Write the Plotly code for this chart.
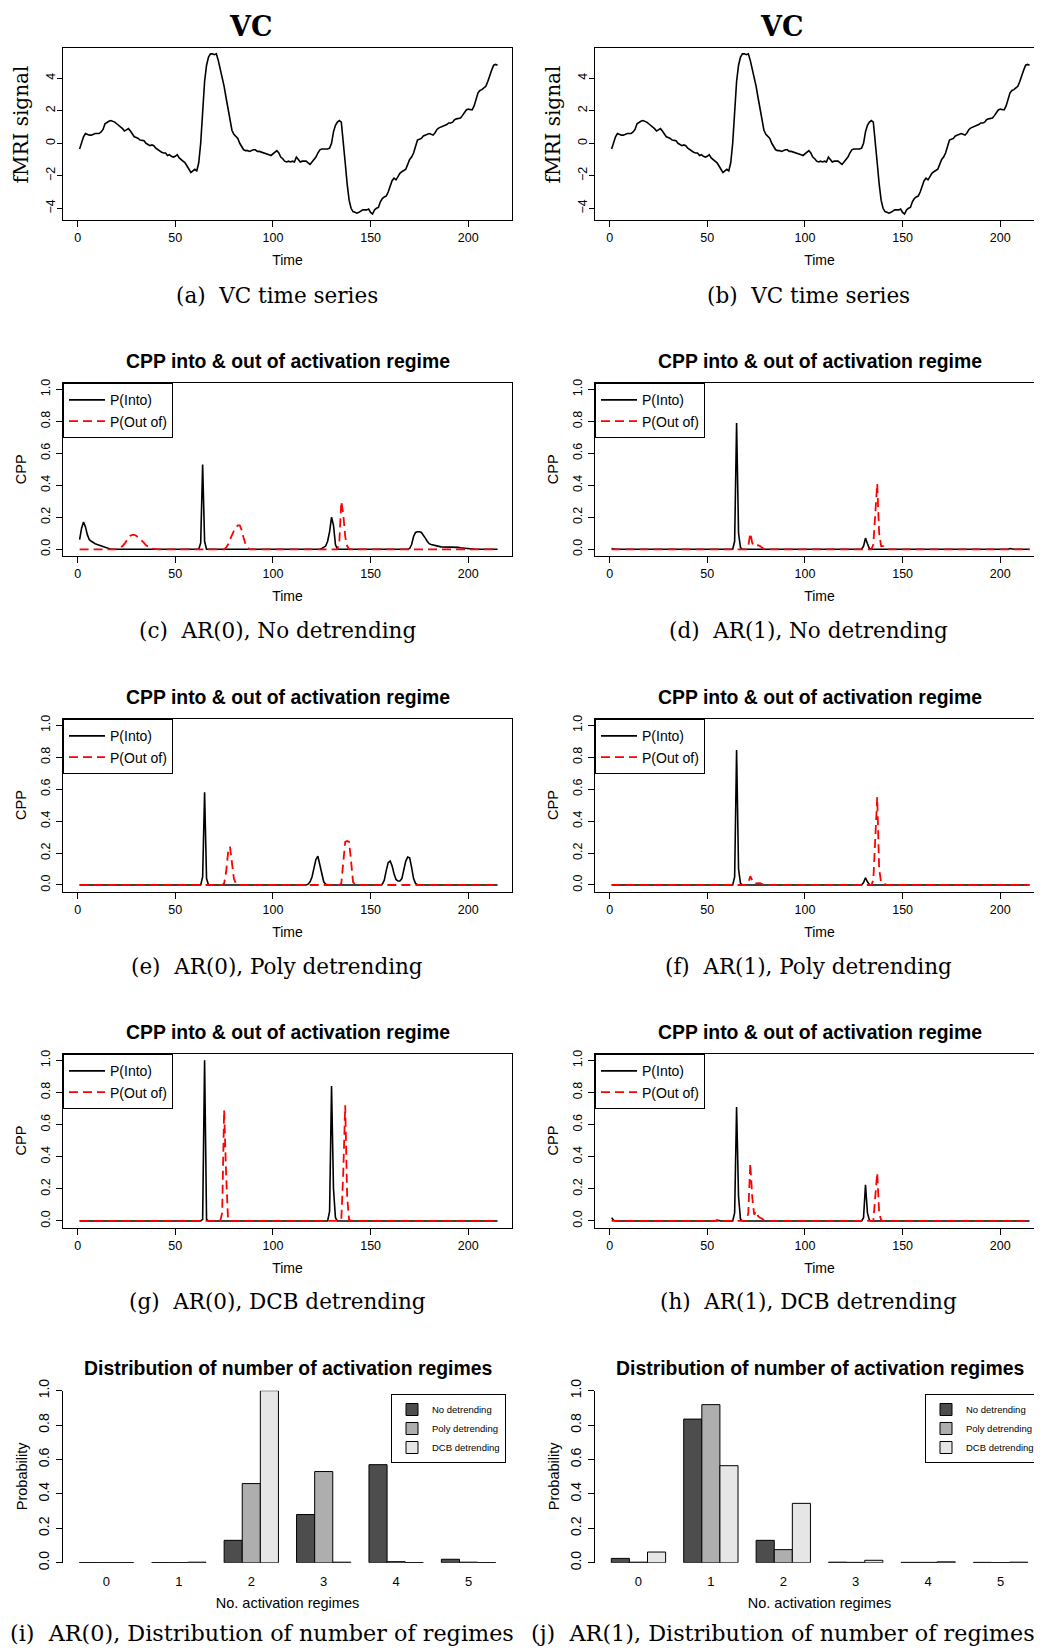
import plotly.graph_objects as go

W, H = 1042, 1651
OFF = 8  # page body margin in the browser

# ---------------- data ----------------
time = list(range(1, 216))

vc_signal = [
    -0.35, 0.1, 0.4, 0.6, 0.55, 0.5, 0.5, 0.55, 0.6, 0.6,
    0.6, 0.7, 0.85, 1.2, 1.3, 1.35, 1.4, 1.35, 1.3, 1.2,
    1.1, 1.05, 0.9, 0.75, 0.85, 0.9, 0.75, 0.55, 0.4, 0.35,
    0.3, 0.2, 0.15, 0.15, 0.0, -0.1, -0.15, -0.1, -0.15, -0.3,
    -0.4, -0.45, -0.55, -0.6, -0.6, -0.75, -0.7, -0.8, -0.85, -0.8,
    -0.7, -0.9, -1.0, -1.1, -1.2, -1.4, -1.6, -1.8, -1.7, -1.6,
    -1.7, -1.2, 0.0, 2.0, 3.8, 4.8, 5.3, 5.5, 5.5, 5.45,
    5.5, 5.1, 4.6, 4.0, 3.5, 2.8, 2.1, 1.3, 0.8, 0.55,
    0.45, 0.3, 0.0, -0.2, -0.4, -0.45, -0.45, -0.5, -0.45, -0.4,
    -0.4, -0.5, -0.5, -0.55, -0.6, -0.65, -0.7, -0.7, -0.75, -0.65,
    -0.5, -0.45, -0.6, -0.85, -0.95, -1.1, -1.15, -1.1, -1.15, -1.1,
    -1.15, -0.85, -1.0, -1.15, -1.1, -1.1, -1.1, -1.2, -1.3, -1.15,
    -1.0, -0.85, -0.6, -0.4, -0.35, -0.35, -0.35, -0.35, -0.3, 0.0,
    0.7, 1.1, 1.3, 1.4, 1.3, 0.2, -1.2, -2.5, -3.5, -4.0,
    -4.2, -4.25, -4.3, -4.25, -4.15, -4.1, -4.1, -4.1, -4.05, -4.25,
    -4.35, -4.1, -4.0, -3.95, -3.6, -3.4, -3.3, -3.25, -3.0, -2.6,
    -2.3, -2.15, -2.25, -2.05, -1.85, -1.75, -1.65, -1.6, -1.3, -1.0,
    -0.85, -0.6, -0.2, 0.2, 0.25, 0.3, 0.45, 0.5, 0.55, 0.6,
    0.55, 0.5, 0.65, 0.85, 0.95, 1.0, 1.05, 1.1, 1.15, 1.25,
    1.25, 1.3, 1.45, 1.5, 1.55, 1.55, 1.7, 1.9, 2.05, 2.1,
    2.05, 2.05, 2.3, 2.7, 3.1, 3.25, 3.3, 3.4, 3.5, 3.8,
    4.2, 4.5, 4.8, 4.85, 4.8,
]

# Change-point probabilities (nonzero time points only; all others read as 0)
into_c = {1: 0.06, 2: 0.13, 3: 0.17, 4: 0.14, 5: 0.09, 6: 0.06, 7: 0.05, 8: 0.04,
          9: 0.035, 10: 0.03, 11: 0.025, 12: 0.02, 13: 0.02, 14: 0.01, 15: 0.005,
          63: 0.04, 64: 0.53, 65: 0.05,
          125: 0.005, 126: 0.01, 127: 0.02, 128: 0.05, 129: 0.11, 130: 0.2, 131: 0.15, 132: 0.03,
          170: 0.005, 171: 0.03, 172: 0.08, 173: 0.105, 174: 0.11, 175: 0.11, 176: 0.105,
          177: 0.09, 178: 0.07, 179: 0.05, 180: 0.035, 181: 0.03, 182: 0.028, 183: 0.025,
          184: 0.02, 185: 0.018, 186: 0.015, 187: 0.015, 188: 0.015, 189: 0.015, 190: 0.015,
          191: 0.015, 192: 0.015, 193: 0.015, 194: 0.014, 195: 0.012, 196: 0.01, 197: 0.008,
          198: 0.006, 199: 0.005, 200: 0.004, 201: 0.003, 202: 0.002, 203: 0.001}
out_c = {21: 0.005, 22: 0.01, 23: 0.02, 24: 0.035, 25: 0.05, 26: 0.07, 27: 0.085, 28: 0.09,
         29: 0.09, 30: 0.085, 31: 0.075, 32: 0.065, 33: 0.05, 34: 0.04, 35: 0.025, 36: 0.015,
         37: 0.01, 38: 0.005, 39: 0.002,
         76: 0.01, 77: 0.03, 78: 0.06, 79: 0.09, 80: 0.115, 81: 0.135, 82: 0.15, 83: 0.15,
         84: 0.12, 85: 0.07, 86: 0.03, 87: 0.01,
         134: 0.05, 135: 0.3, 136: 0.22, 137: 0.08, 138: 0.02}

into_d = {1: 0.005, 64: 0.05, 65: 0.79, 66: 0.1, 67: 0.01,
          130: 0.02, 131: 0.07, 132: 0.035, 133: 0.005, 205: 0.005}
out_d = {71: 0.02, 72: 0.1, 73: 0.04, 74: 0.02, 75: 0.02, 76: 0.025, 77: 0.02, 78: 0.01, 79: 0.002,
         135: 0.03, 136: 0.25, 137: 0.41, 138: 0.1, 139: 0.02, 140: 0.02, 141: 0.005}

into_e = {64: 0.05, 65: 0.58, 66: 0.04,
          118: 0.005, 119: 0.02, 120: 0.05, 121: 0.1, 122: 0.16, 123: 0.18, 124: 0.13, 125: 0.06,
          126: 0.02, 127: 0.005,
          156: 0.005, 157: 0.03, 158: 0.09, 159: 0.14, 160: 0.15, 161: 0.12, 162: 0.07, 163: 0.035,
          164: 0.025, 165: 0.025, 166: 0.04, 167: 0.09, 168: 0.15, 169: 0.175, 170: 0.17,
          171: 0.11, 172: 0.04, 173: 0.01, 174: 0.002}
out_e = {75: 0.01, 76: 0.08, 77: 0.2, 78: 0.24, 79: 0.14, 80: 0.04, 81: 0.01, 82: 0.002,
         135: 0.01, 136: 0.15, 137: 0.27, 138: 0.275, 139: 0.27, 140: 0.15, 141: 0.02, 142: 0.003}

into_f = {64: 0.05, 65: 0.845, 66: 0.1, 67: 0.01,
          130: 0.015, 131: 0.045, 132: 0.02, 133: 0.003}
out_f = {71: 0.01, 72: 0.055, 73: 0.03, 74: 0.01, 75: 0.01, 76: 0.012, 77: 0.012, 78: 0.006,
         135: 0.03, 136: 0.3, 137: 0.55, 138: 0.1, 139: 0.015, 140: 0.01, 141: 0.003}

into_g = {64: 0.01, 65: 1.0, 66: 0.01,
          129: 0.06, 130: 0.84, 131: 0.2, 132: 0.02}
out_g = {74: 0.05, 75: 0.69, 76: 0.3, 77: 0.01,
         135: 0.01, 136: 0.3, 137: 0.72, 138: 0.15, 139: 0.005}

into_h = {1: 0.02, 2: 0.005, 55: 0.005, 64: 0.05, 65: 0.71, 66: 0.15, 67: 0.01,
          130: 0.02, 131: 0.225, 132: 0.05, 133: 0.005}
out_h = {71: 0.05, 72: 0.36, 73: 0.15, 74: 0.04, 75: 0.06, 76: 0.03, 77: 0.02, 78: 0.015, 79: 0.003,
         136: 0.15, 137: 0.3, 138: 0.05, 139: 0.005}

# Distribution of number of activation regimes
n_regimes = ["0", "1", "2", "3", "4", "5"]
series_names = ["No detrending", "Poly detrending", "DCB detrending"]
ar0_no = [0.001, 0.001, 0.13, 0.28, 0.57, 0.02]
ar0_poly = [0.001, 0.001, 0.46, 0.53, 0.006, 0.003]
ar0_dcb = [0.001, 0.003, 1.0, 0.003, 0.001, 0.001]
ar1_no = [0.025, 0.835, 0.13, 0.003, 0.002, 0.002]
ar1_poly = [0.003, 0.919, 0.076, 0.002, 0.002, 0.001]
ar1_dcb = [0.062, 0.564, 0.345, 0.014, 0.005, 0.003]

captions = ["(a)  VC time series", "(b)  VC time series",
            "(c)  AR(0), No detrending", "(d)  AR(1), No detrending",
            "(e)  AR(0), Poly detrending", "(f)  AR(1), Poly detrending",
            "(g)  AR(0), DCB detrending", "(h)  AR(1), DCB detrending",
            "(i)  AR(0), Distribution of number of regimes",
            "(j)  AR(1), Distribution of number of regimes"]

cpp_title = "CPP into & out of activation regime"
bar_title = "Distribution of number of activation regimes"
bar_colors = ["#4D4D4D", "#AEAEAE", "#E6E6E6"]

# ---------------- layout geometry (page px) ----------------
SANS = "Liberation Sans, Arial, Helvetica, sans-serif"
SERIF = "DejaVu Serif, serif"

col_x = [(63, 512), (595, 1044)]
row_y = [(48, 220), (383.3, 556), (719.3, 891.7), (1054.3, 1227.7), (1390.7, 1562.7)]
line_xrange = [-7.5, 222.4]
bar_xrange = [-0.6, 5.6]
caption_x = [277, 808]
caption_y = [295, 630, 966, 1301, 1633]
ytitle_x = [20.5, 552.5]


def px(a):
    return (a - OFF) / W


def py(b):
    return 1 - (b - OFF) / H


def ann(text, x, y, size, family, angle=0, xanchor="center"):
    return dict(text=text, x=px(x), y=py(y), xref="paper", yref="paper", showarrow=False,
                xanchor=xanchor, yanchor="middle", textangle=angle,
                font=dict(size=size, family=family, color="black"))


fig = go.Figure()
layout = dict(template="none", width=W, height=H, margin=dict(l=0, r=0, t=0, b=0, pad=0),
              paper_bgcolor="white", plot_bgcolor="white", hovermode=False,
              font=dict(family=SANS, color="black"), annotations=[])

cpp_sets = [(into_c, out_c), (into_d, out_d), (into_e, out_e), (into_f, out_f),
            (into_g, out_g), (into_h, out_h)]

idx = 0
for r in range(5):
    for c in range(2):
        idx += 1
        xa = "xaxis" if idx == 1 else f"xaxis{idx}"
        ya = "yaxis" if idx == 1 else f"yaxis{idx}"
        xr = "x" if idx == 1 else f"x{idx}"
        yr = "y" if idx == 1 else f"y{idx}"
        top, bottom = row_y[r]
        x0, x1 = col_x[c]
        xmid = (x0 + x1) / 2
        leg = "legend" if idx == 1 else f"legend{idx}"
        base_axis = dict(showgrid=False, zeroline=False, linecolor="black", linewidth=1,
                         ticks="outside", tickcolor="black", ticklen=6, tickwidth=1,
                         automargin=False,
                         tickfont=dict(size=12.5, family=SANS, color="black"), fixedrange=True)
        xdom = [px(x0), min(px(x1), 1.0)]
        ydom = [py(bottom), py(top)]
        if r < 4:
            layout[xa] = dict(base_axis, domain=xdom, anchor=yr, range=line_xrange,
                              tickvals=[0, 50, 100, 150, 200], showline=True, mirror=True,
                              ticklabelstandoff=0,
                              title=dict(text="Time", font=dict(size=14, family=SANS), standoff=11))
            if r == 0:
                layout[ya] = dict(base_axis, domain=ydom, anchor=xr, range=[-4.72, 5.86],
                                  tickvals=[-4, -2, 0, 2, 4], ticktext=["\u22124", "\u22122", "0", "2", "4"],
                                  tickangle=-90, showline=True, mirror=True, ticklen=5,
                                  ticklabelstandoff=-3)
                fig.add_trace(go.Scatter(x=time, y=vc_signal, mode="lines", xaxis=xr, yaxis=yr,
                                         line=dict(color="black", width=1.6), showlegend=False))
                layout["annotations"].append(ann("<b>VC</b>", 250 if c == 0 else 781, 26.5, 27, SERIF))
                layout["annotations"].append(ann("fMRI signal", ytitle_x[c], 125, 20, SERIF, angle=-90))
            else:
                into, out = cpp_sets[(r - 1) * 2 + c]
                layout[ya] = dict(base_axis, domain=ydom, anchor=xr, range=[-0.042, 1.0375],
                                  tickvals=[0, 0.2, 0.4, 0.6, 0.8, 1.0], tickformat=".1f",
                                  tickangle=-90, showline=True, mirror=True,
                                  ticklabelstandoff=1)
                fig.add_trace(go.Scatter(x=time, y=[into.get(t, 0.0) for t in time], mode="lines",
                                         name="P(Into)", xaxis=xr, yaxis=yr, legend=leg,
                                         line=dict(color="black", width=1.6)))
                fig.add_trace(go.Scatter(x=time, y=[out.get(t, 0.0) for t in time], mode="lines",
                                         name="P(Out of)", xaxis=xr, yaxis=yr, legend=leg,
                                         line=dict(color="#FF0000", width=1.8, dash="9px,5px")))
                layout[leg] = dict(x=px(x0), y=py(top), xanchor="left", yanchor="top",
                                   bgcolor="white", bordercolor="black", borderwidth=1,
                                   font=dict(size=14, family=SANS, color="black"), itemwidth=36,
                                   tracegroupgap=0)
                layout["annotations"].append(ann("<b>" + cpp_title.replace("&", "&amp;") + "</b>",
                                                 xmid, top - 22.6, 19.4, SANS))
                layout["annotations"].append(ann("CPP", ytitle_x[c], (top + bottom) / 2, 14.5, SANS, angle=-90))
        else:
            layout[xa] = dict(base_axis, domain=xdom, anchor=yr, range=bar_xrange,
                              type="category", showline=False, ticks="", ticklabelstandoff=9,
                              tickfont=dict(size=13, family=SANS, color="black"),
                              title=dict(text="No. activation regimes", font=dict(size=14.5, family=SANS),
                                         standoff=10))
            layout[ya] = dict(base_axis, domain=ydom, anchor=xr, range=[0, 1],
                              tickvals=[0, 0.2, 0.4, 0.6, 0.8, 1.0], tickformat=".1f",
                              tickangle=-90, showline=True, mirror=False, ticklabelstandoff=1,
                              tickfont=dict(size=14, family=SANS, color="black"))
            vals = [ar0_no, ar0_poly, ar0_dcb] if c == 0 else [ar1_no, ar1_poly, ar1_dcb]
            for name, v, col in zip(series_names, vals, bar_colors):
                fig.add_trace(go.Bar(x=n_regimes, y=v, name=name, xaxis=xr, yaxis=yr, legend=leg,
                                     marker=dict(color=col, line=dict(color="black", width=1))))
            layout[leg] = dict(x=px(506 if c == 0 else 1040), y=py(1394),
                               xanchor="right", yanchor="top", bgcolor="white",
                               bordercolor="black", borderwidth=1,
                               font=dict(size=9.5, family=SANS, color="black"), itemwidth=30,
                               tracegroupgap=0)
            layout["annotations"].append(ann("<b>" + bar_title + "</b>", xmid, 1368.3, 19.4, SANS))
            layout["annotations"].append(ann("Probability", ytitle_x[c] + 1, (top + bottom) / 2,
                                             14.5, SANS, angle=-90))
        # caption
        if r < 4:
            layout["annotations"].append(ann(captions[idx - 1], caption_x[c], caption_y[r], 21.5, SERIF))
        else:
            layout["annotations"].append(ann(captions[idx - 1], 8.3 if c == 0 else 529.3, caption_y[r],
                                             22.3, SERIF, xanchor="left"))

layout["barmode"] = "group"
layout["bargap"] = 0.25
layout["bargroupgap"] = 0.0
fig.update_layout(**layout)
fig.write_html("out.html")
